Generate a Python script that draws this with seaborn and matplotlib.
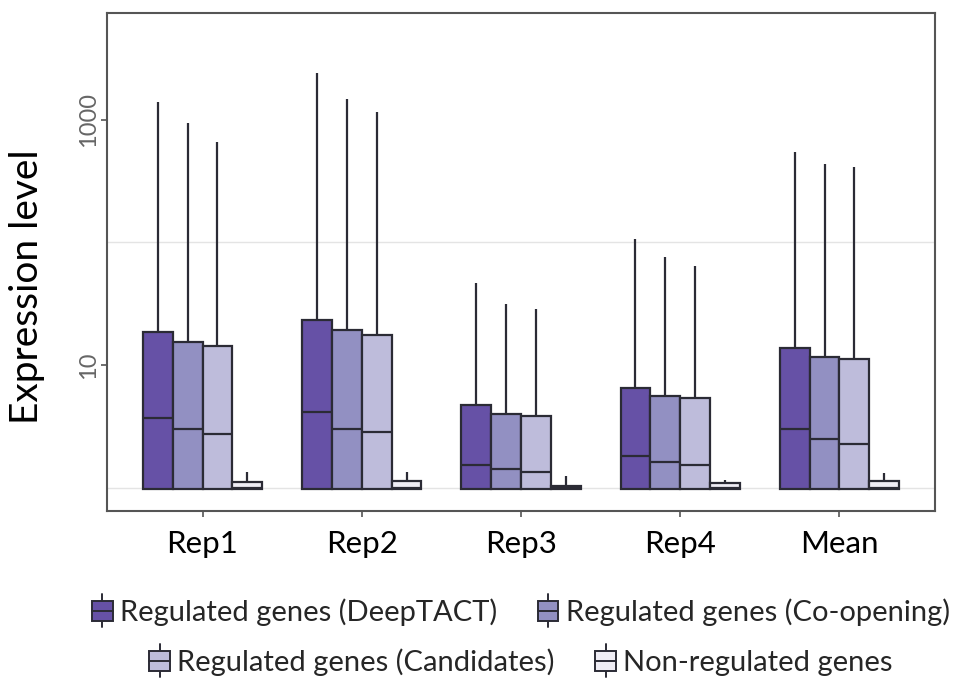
import numpy as np
import pandas as pd
import seaborn as sns
import matplotlib
matplotlib.use("Agg")
import matplotlib.pyplot as plt
from matplotlib.patches import Rectangle
from matplotlib.lines import Line2D
from matplotlib.legend_handler import HandlerBase

# ---- data -------------------------------------------------------------
categories = ["Rep1", "Rep2", "Rep3", "Rep4", "Mean"]
groups = [
    "Regulated genes (DeepTACT)",
    "Regulated genes (Co-opening)",
    "Regulated genes (Candidates)",
    "Non-regulated genes",
]

# lower hinge (equal to the minimum) for every box
lower_hinge = [0.97, 0.97, 0.97, 0.97, 0.97]

deeptact_median = [3.67, 4.11, 1.53, 1.82, 3.0]
deeptact_upper = [18.5, 23.3, 4.72, 6.53, 13.7]
deeptact_max = [1410, 2405, 46.4, 107, 545]

coopening_median = [2.99, 2.99, 1.42, 1.62, 2.49]
coopening_upper = [15.5, 19.3, 3.96, 5.61, 11.7]
coopening_max = [940, 1484, 31.3, 76.6, 435]

candidates_median = [2.72, 2.85, 1.34, 1.53, 2.26]
candidates_upper = [14.4, 17.6, 3.85, 5.35, 11.2]
candidates_max = [655, 1170, 28.6, 64.3, 416]

nonreg_median = [1.0, 1.0, 0.99, 1.0, 1.0]
nonreg_upper = [1.115, 1.13, 1.03, 1.08, 1.14]
nonreg_max = [1.346, 1.34, 1.25, 1.15, 1.31]

palette = ["#6651A6", "#9290C2", "#BEBCDB", "#EFEDF5"]
line_color = "#2b2b35"

# ---- long-form table: five summary points per box ---------------------
stats = {
    groups[0]: (deeptact_median, deeptact_upper, deeptact_max),
    groups[1]: (coopening_median, coopening_upper, coopening_max),
    groups[2]: (candidates_median, candidates_upper, candidates_max),
    groups[3]: (nonreg_median, nonreg_upper, nonreg_max),
}
rows = []
for g, (med, up, mx) in stats.items():
    for i, c in enumerate(categories):
        for v in (lower_hinge[i], lower_hinge[i], med[i], up[i], mx[i]):
            rows.append({"sample": c, "group": g, "value": v})
df = pd.DataFrame(rows)

# ---- figure -----------------------------------------------------------
sns.set_style("white")
plt.rcParams["font.family"] = ["Lato", "DejaVu Sans"]

fig = plt.figure(figsize=(9.61, 6.91), dpi=100)
ax = fig.add_axes([107 / 961, 1 - 510.5 / 691, (935 - 107) / 961, (510.5 - 13) / 691])

for y in (1, 100):
    ax.axhline(y, color="#e4e4e4", lw=1.0, zorder=0)

sns.boxplot(
    data=df, x="sample", y="value", hue="group",
    order=categories, hue_order=groups, palette=palette,
    width=0.75, gap=0, dodge=True, saturation=1,
    whis=(0, 100), showcaps=False, showfliers=False,
    log_scale=True, legend=False, ax=ax,
    linecolor=line_color, linewidth=1.6,
    medianprops={"color": line_color, "linewidth": 1.6},
)

ax.set_xlim(-0.6, 4.6)
ax.set_ylim(0.65, 7450)
ax.set_yticks([10, 1000])
ax.set_yticklabels(["10", "1000"])
ax.yaxis.set_minor_locator(matplotlib.ticker.NullLocator())

ax.set_xlabel("")
ax.set_ylabel("Expression level", fontsize=28, color="black")
ax.yaxis.set_label_coords(-62 / 828, 0.45)
ax.tick_params(axis="x", labelsize=22.5, labelcolor="black", length=4,
               width=1.2, color="#555555", pad=10, bottom=True)
ax.tick_params(axis="y", labelsize=17, labelcolor="#666666", length=4,
               width=1.2, color="#555555", pad=2, left=True)
for lab in ax.get_yticklabels():
    lab.set_rotation(90)
    lab.set_va("center")

for s in ax.spines.values():
    s.set_visible(True)
    s.set_color("#555555")
    s.set_linewidth(1.5)


# ---- legend with boxplot-shaped keys ------------------------------------
class BoxKey(HandlerBase):
    def create_artists(self, legend, orig_handle, xdescent, ydescent,
                       width, height, fontsize, trans):
        fc = orig_handle.get_facecolor()
        x0, y0 = -xdescent, -ydescent
        cx = x0 + width / 2
        vline = Line2D([cx, cx], [y0 - height * 0.15, y0 + height * 1.15],
                       color=line_color, lw=1.4, transform=trans)
        rect = Rectangle((x0, y0 + height * 0.1), width, height * 0.8,
                         facecolor=fc, edgecolor=line_color, lw=1.4,
                         transform=trans)
        med = Line2D([x0, x0 + width], [y0 + height * 0.5] * 2,
                     color=line_color, lw=1.4, transform=trans)
        return [vline, rect, med]


handles = [Rectangle((0, 0), 1, 1, facecolor=c) for c in palette]
cx = (107 + 935) / 2 / 961
leg_kw = dict(ncol=2, frameon=False, fontsize=21, handlelength=0.7,
              handleheight=0.95, handletextpad=0.25, columnspacing=1.4,
              loc="center", handler_map={Rectangle: BoxKey()})
leg1 = fig.legend(handles[:2], groups[:2], bbox_to_anchor=(cx, 1 - 612 / 691), **leg_kw)
leg2 = fig.legend(handles[2:], groups[2:], bbox_to_anchor=(cx, 1 - 662 / 691), **leg_kw)

fig.savefig("out.png", dpi=100)
